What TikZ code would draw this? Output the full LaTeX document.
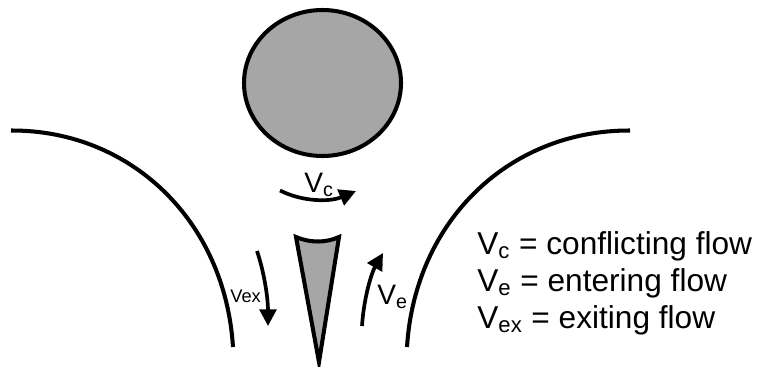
\documentclass[tikz,border=0pt]{standalone}
\usepackage{fontspec}
\setmainfont{Liberation Sans}
\usepackage{xcolor}
\usetikzlibrary{positioning, arrows.meta, shapes.geometric}
\definecolor{IslandGray}{RGB}{166,166,166}

\begin{document}
\begin{tikzpicture}[x=0.02cm, y=-0.02cm,
  every node/.style={font=\fontsize{16}{19}\selectfont, inner sep=0pt},
  curb/.style={line width=2.3pt},
  island/.style={draw, line width=2.3pt, fill=IslandGray},
  arrow/.style={-{Triangle[length=9.5pt, width=9.5pt]}, line width=2.1pt}]
\useasboundingbox (0,0) rectangle (758,366);

% Central island of the roundabout
\node[island, ellipse, minimum width=157*0.02cm, minimum height=146*0.02cm] (circ) at (322.5,83) {};

% Outer curbs
\coordinate (curbLa) at (11,130.5);
\coordinate (curbLb) at (233,347);
\coordinate (curbRa) at (630,130.5);
\coordinate (curbRb) at (407,347);
\draw[curb] (curbLa) .. controls (130,130) and (225,220) .. (curbLb);
\draw[curb] (curbRa) .. controls (510,130) and (415,220) .. (curbRb);

% Splitter island
\draw[island, miter limit=20] (296,237) .. controls (310,243) and (326,243) .. (339,237) -- (319,362) -- cycle;

% Flow arrows
\coordinate (vcA) at (280,190.5);
\coordinate (vcB) at (356,191);
\coordinate (veA) at (362,326);
\coordinate (veB) at (383,253);
\coordinate (vexA) at (257,251);
\coordinate (vexB) at (268,326);
\draw[arrow] (vcA) .. controls (303,202) and (330,202) .. (vcB);
\draw[arrow] (veA) .. controls (364,296) and (372,272) .. (veB);
\draw[arrow] (vexA) .. controls (265,275) and (268,300) .. (vexB);

% Flow labels
\node[anchor=base west] (vc) at (304,192) {V\textsubscript{c}};
\node[anchor=base west] (ve) at (377,304) {V\textsubscript{e}};
\node[anchor=base west, font=\fontsize{10.4}{12}\selectfont] (vex) at (230,302) {Vex};

% Legend
\node[anchor=west, align=left, font=\fontsize{18}{21}\selectfont] (legend) at (477,283) {V\textsubscript{c} = conflicting flow\\V\textsubscript{e} = entering flow\\V\textsubscript{ex} = exiting flow};
\end{tikzpicture}
\end{document}
